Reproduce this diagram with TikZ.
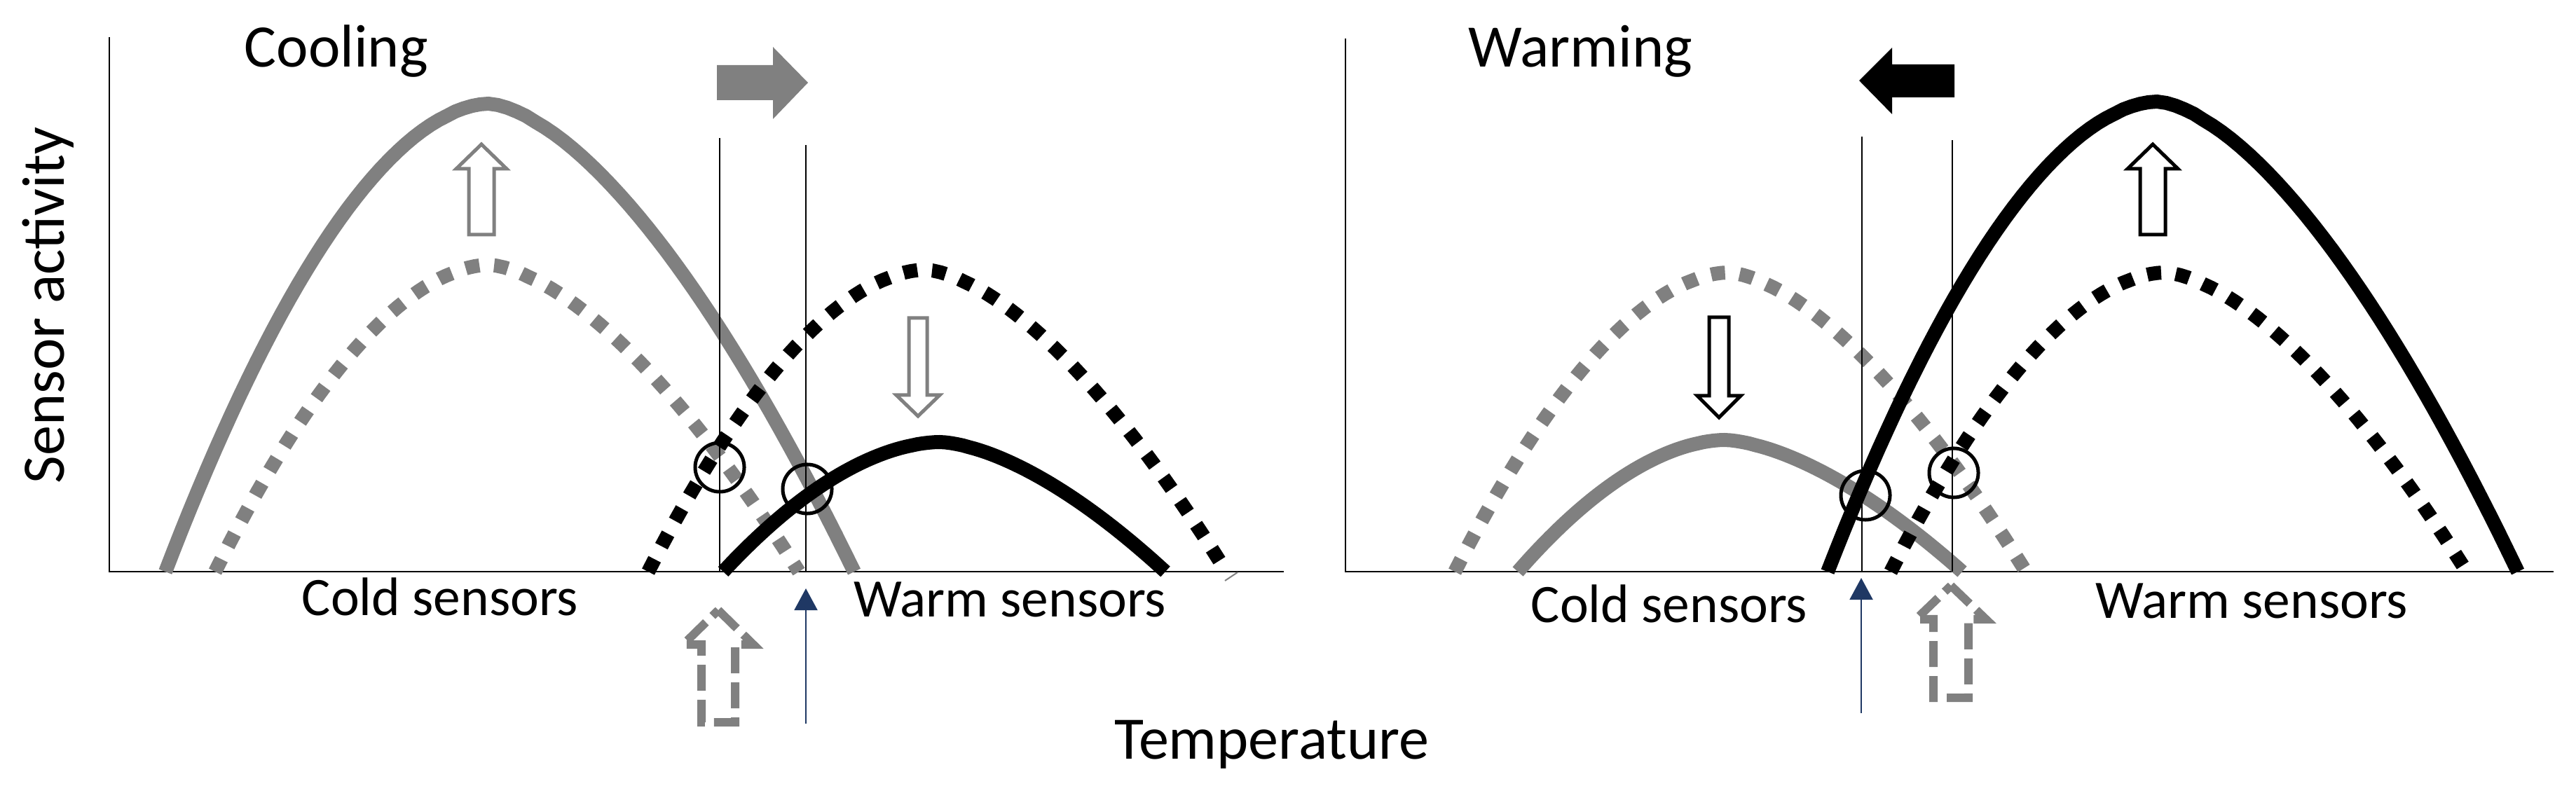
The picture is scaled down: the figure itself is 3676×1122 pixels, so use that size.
\documentclass[tikz,border=0pt]{standalone}
\usepackage{fontspec}
\setmainfont{Carlito}
\usetikzlibrary{arrows.meta}
\definecolor{midgray}{RGB}{128,128,128}
\definecolor{navy}{RGB}{31,56,100}
\tikzset{
  curve/.style={line width=0.2cm},
  dots/.style={line width=0.2cm, dash pattern=on 0.2cm off 0.21cm},
  axis/.style={line width=0.025cm},
  marker/.style={line width=0.02cm},
  ring/.style={line width=0.05cm},
  hollow/.style={line width=0.05cm, fill=white, line join=miter},
  ghost/.style={draw=midgray, line width=0.12cm, dash pattern=on 0.37cm off 0.13cm},
  probe/.style={navy, line width=0.02cm, -{Triangle[length=0.31cm,width=0.33cm]}},
  bigtext/.style={inner sep=0pt, font=\fontsize{24.5}{29}\selectfont},
  labeltext/.style={inner sep=0pt, font=\fontsize{22}{26}\selectfont},
}
\newcommand{\hump}[5]{%
  \draw[#1] plot[domain=#2:#3,samples=40] (\x,{816-(816-#5)*(1-pow((#3-\x)/(#3-#2)+0.0001,1.8))})
    -- plot[domain=#3:#4,samples=40] (\x,{816-(816-#5)*(1-pow((\x-#3)/(#4-#3)+0.0001,1.6))});
}
\begin{document}
\begin{tikzpicture}[x=0.01cm,y=-0.01cm]
	\useasboundingbox (0,0) rectangle (3676,1122);
	\draw[axis] (156,53) -- (156,816) -- (1832,816);
	\draw[axis] (1920,55) -- (1920,816) -- (3644,816);
	\draw[midgray,marker] (1748,829) -- (1766,817);
	\hump{curve,midgray}{236}{697}{1219}{148}
	\hump{dots,midgray}{307}{697}{1140}{378}
	\hump{dots}{925}{1320}{1750}{385}
	\hump{curve}{1032}{1341}{1663}{631}
	\hump{dots,midgray}{2076}{2466}{2891}{389}
	\hump{curve,midgray}{2166}{2461}{2800}{628}
	\hump{curve}{2608}{3078}{3593}{145}
	\hump{dots}{2698}{3089}{3520}{389}
	\coordinate (c1) at (1027,816);
	\coordinate (c2) at (1150,816);
	\coordinate (w1) at (2657,816);
	\coordinate (w2) at (2786,816);
	\draw[marker] (c1) -- (1027,197);
	\draw[marker] (c2) -- (1150,207);
	\draw[marker] (w1) -- (2657,195);
	\draw[marker] (w2) -- (2786,200);
	\draw[ring] (1027,667) circle[radius=0.35cm];
	\draw[ring] (1152,698) circle[radius=0.35cm];
	\draw[ring] (2662,707) circle[radius=0.35cm];
	\draw[ring] (2788,675) circle[radius=0.35cm];
	\draw[probe] (1150,1033) -- (1150,840);
	\draw[probe] (2656,1018) -- (2656,825);
	\fill[midgray] (1023,93) -- (1103,93) -- (1103,67) -- (1153,118) -- (1103,170) -- (1103,143) -- (1023,143) -- cycle;
	\fill (2789,92) -- (2700,92) -- (2700,68) -- (2653,115) -- (2700,163) -- (2700,139) -- (2789,139) -- cycle;
	\draw[hollow,draw=midgray] (687,206) -- (723,241) -- (705,241) -- (705,335) -- (669,335) -- (669,241) -- (651,241) -- cycle;
	\draw[hollow] (3072,206) -- (3108,241) -- (3090,241) -- (3090,335) -- (3054,335) -- (3054,241) -- (3036,241) -- cycle;
	\draw[hollow,draw=midgray] (1310,594) -- (1341,564) -- (1323,564) -- (1323,454) -- (1297,454) -- (1297,564) -- (1279,564) -- cycle;
	\draw[hollow] (2453,596) -- (2484,565) -- (2467,565) -- (2467,453) -- (2439,453) -- (2439,565) -- (2422,565) -- cycle;
	\draw[ghost] (1025,871) -- (1075,920) -- (1049,920) -- (1049,1031) -- (1001,1031) -- (1001,920) -- (975,920) -- cycle;
	\draw[ghost] (2784,836) -- (2834,884) -- (2809,884) -- (2809,996) -- (2759,996) -- (2759,884) -- (2734,884) -- cycle;
	\node[bigtext,anchor=base west] (cooling) at (348,96) {Cooling};
	\node[bigtext,anchor=base west] (warming) at (2095,96) {Warming};
	\node[bigtext,anchor=base,rotate=90] (activity) at (91,436) {Sensor activity};
	\node[bigtext,anchor=base] (temperature) at (1815,1083) {Temperature};
	\node[labeltext,anchor=base] (coldL) at (628,878) {Cold sensors};
	\node[labeltext,anchor=base] (warmL) at (1441,880) {Warm sensors};
	\node[labeltext,anchor=base] (coldR) at (2382,888) {Cold sensors};
	\node[labeltext,anchor=base] (warmR) at (3213,882) {Warm sensors};
\end{tikzpicture}
\end{document}
